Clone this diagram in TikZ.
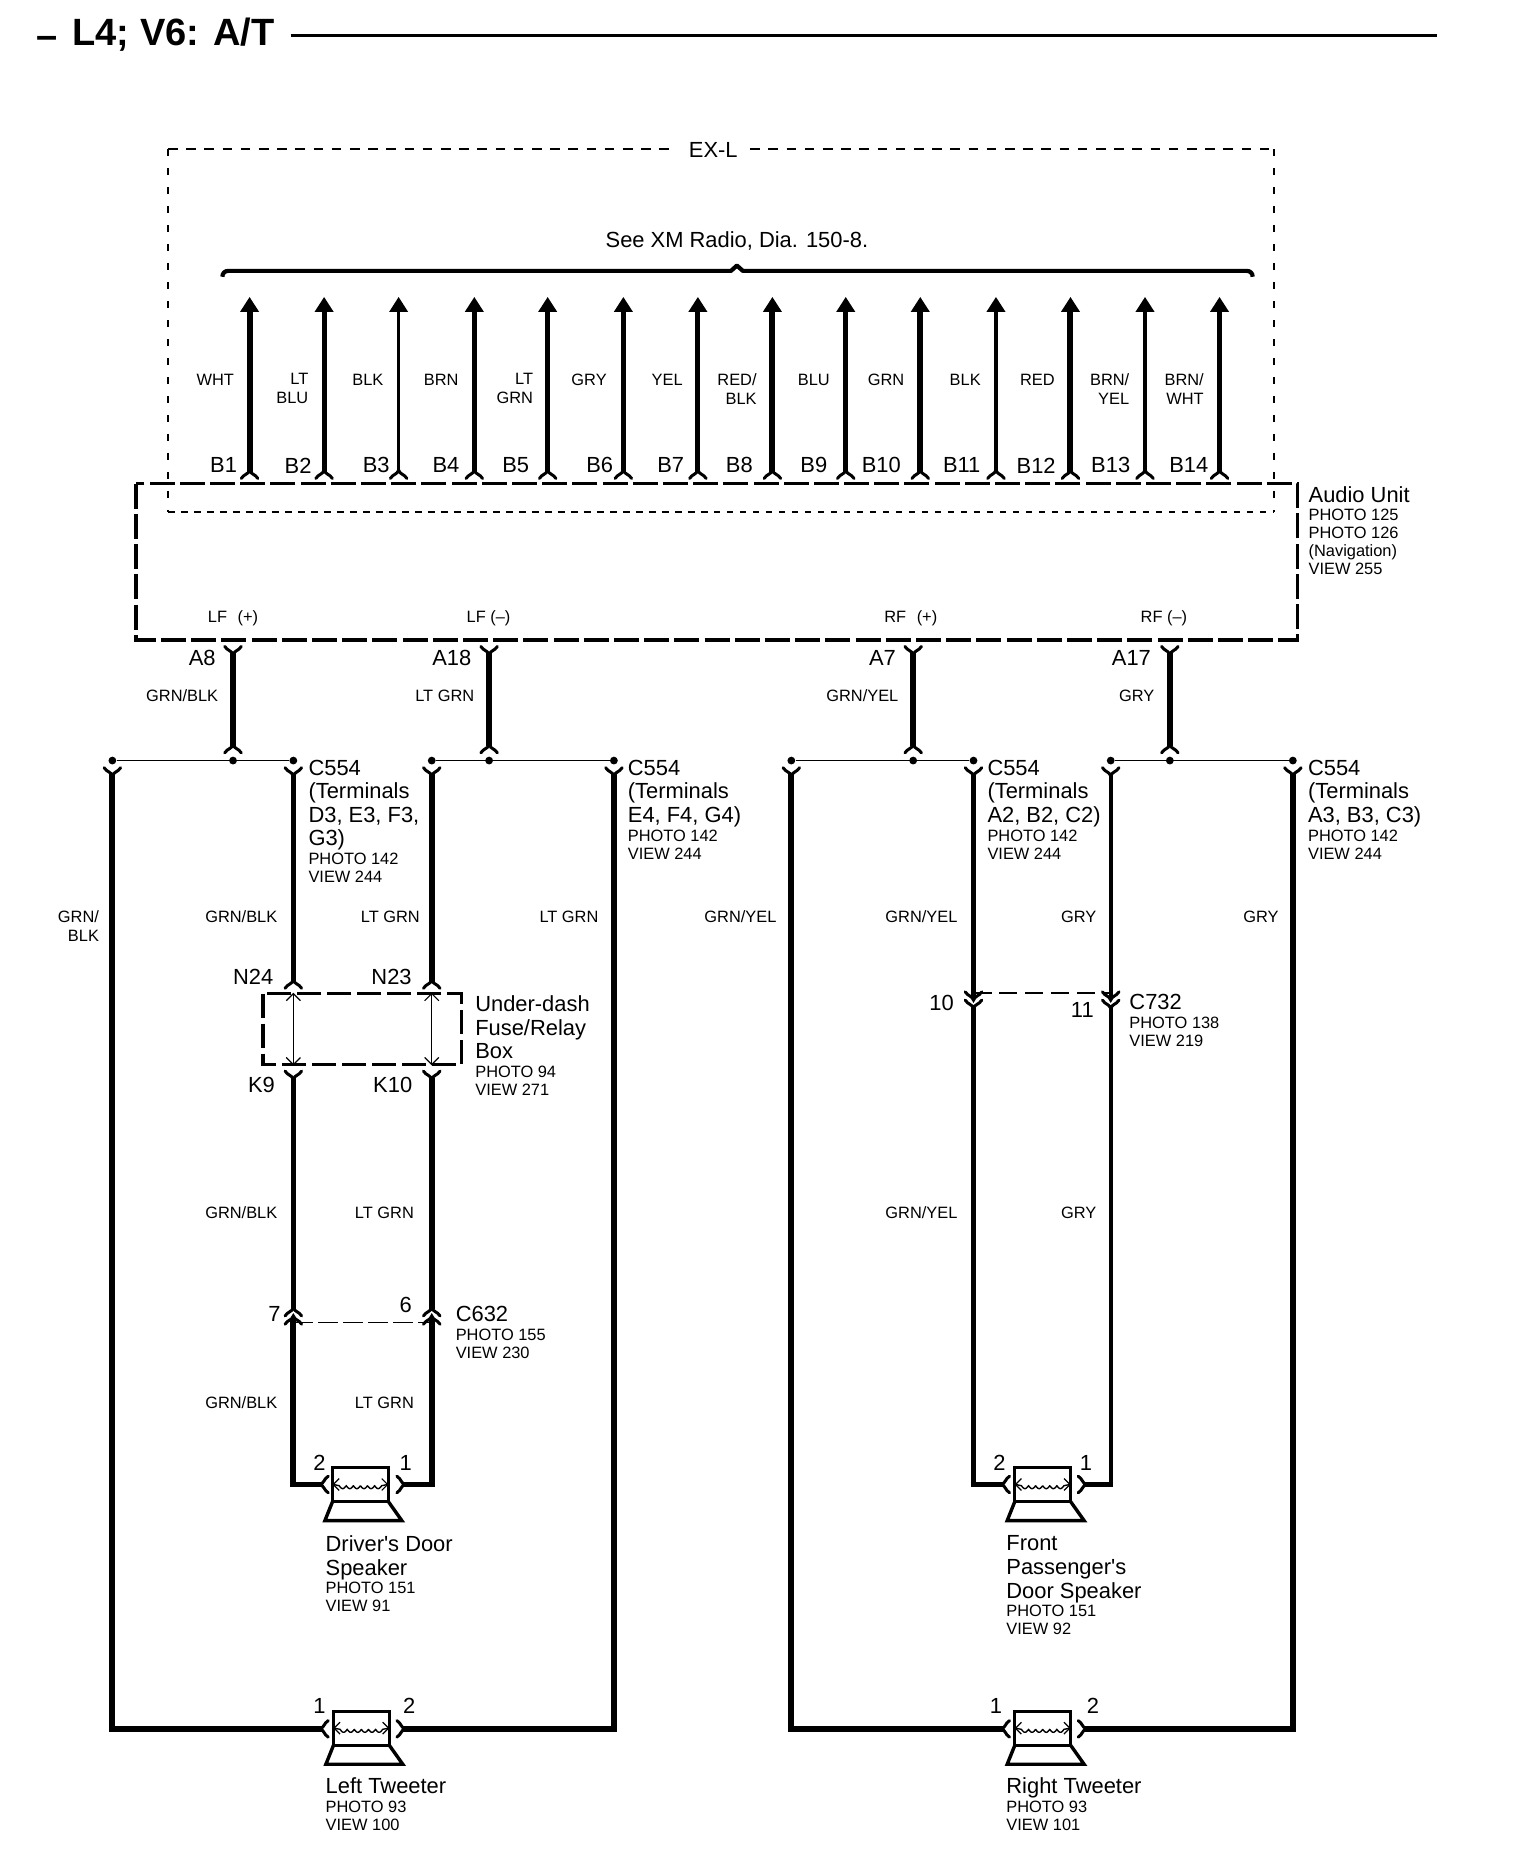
\documentclass[tikz,border=0pt]{standalone}
\usepackage{fontspec}
\setmainfont{Liberation Sans}
\newfontfamily\plainapos{Liberation Sans}
\usetikzlibrary{arrows.meta}
\tikzset{
  big/.style={inner sep=0pt,font=\fontsize{10.95}{11.8}\selectfont,align=left},
  small/.style={inner sep=0pt,font=\fontsize{8.2}{9}\selectfont,align=left},
  wlab/.style={inner sep=0pt,font=\fontsize{8.2}{9.3}\selectfont,align=right},
  wire/.style={line width=2.9pt,line cap=butt,line join=miter},
  wiren/.style={line width=2.2pt,line cap=butt,line join=miter},
  bus/.style={line width=0.9pt},
  upwire/.style={-{Triangle[length=7.5pt,width=9pt]}},
  forkline/.style={line width=1.5pt,line cap=round},
  dot/.style={circle,fill=black,inner sep=0pt,minimum size=3.9pt},
  bigbox/.style={line width=1.7pt,dash pattern=on 12.5pt off 2.6pt},
  thinh/.style={line width=1pt,dash pattern=on 4.8pt off 4.3pt},
  thinb/.style={line width=0.7pt,dash pattern=on 3.3pt off 3.2pt},
  thinv/.style={line width=0.7pt,dash pattern=on 3.4pt off 6.1pt},
  thinj/.style={line width=0.5pt,dash pattern=on 10pt off 2.5pt},
  thinm/.style={line width=1pt,dash pattern=on 9pt off 4pt},
}
\newcommand\forkat[2][0]{\begin{scope}[shift={(#2)},rotate=#1]
  \draw[forkline] (-7,5.5) .. controls (-4.5,1.5) and (-1.5,2.5) .. (0,-1.5) .. controls (1.5,2.5) and (4.5,1.5) .. (7,5.5);
\end{scope}}
\newcommand\spkat[1]{\begin{scope}[shift={(#1)}]
  \draw[line width=1.5pt,line join=miter] (-23.5,-14.3) rectangle (23.5,14.3);
  \draw[line width=1.7pt,line join=miter] (-23.5,14.3) -- (-30,30.5) -- (35,30.5) -- (23.5,14.3);
  \draw[line width=0.6pt] (-18,-5) -- (-23,0) -- (-18,5);
  \draw[line width=0.6pt] (18,-5) -- (23,0) -- (18,5);
  \draw[line width=0.7pt] (-23,0) -- (-18,1) -- plot[domain=-18:18,samples=90] (\x,{1+2.5*abs(sin(\x*30))}) -- (23,0);
\end{scope}}
\newcommand\dblat[1]{\begin{scope}[shift={(#1)}]
  \draw[line width=0.6pt] (0,0) -- (0,60);
  \draw[line width=0.6pt] (-6,6) -- (0,0) -- (6,6);
  \draw[line width=0.6pt] (-6,54) -- (0,60) -- (6,54);
\end{scope}}
\begin{document}
\begin{tikzpicture}[x=0.5915pt,y=-0.5915pt]
\useasboundingbox (0,0) rectangle (1285,1567.4);
% title
\node[inner sep=0pt,anchor=west,font=\bfseries\fontsize{19}{20}\selectfont] (title) at (61,29.5) {L4; V6: A/T};
\node[inner sep=0pt,font=\bfseries\fontsize{19}{20}\selectfont] (titledash) at (40,36) {–};
\coordinate (tl) at (246,30); \coordinate (tr) at (1215,30);
\draw[line width=1.7pt] (tl) -- (tr);
% EX-L box
\coordinate (exa) at (142,126); \coordinate (exb) at (1077,433);
\draw[thinh] (exa) -- (exb |- exa);
\draw[thinb] (exa |- exb) -- (exb);
\draw[thinv] (exa) -- (exa |- exb);
\draw[thinv] (exb |- exa) -- (exb);
\node[fill=white,inner xsep=6pt,inner ysep=1pt,font=\fontsize{10.95}{11}\selectfont] (exl) at (603,127) {EX-L};
\node[inner sep=0pt,font=\fontsize{10.95}{11}\selectfont] (xm) at (623,204) {See XM Radio, Dia. 150-8.};
% brace
\coordinate (bra) at (188,234); \coordinate (brb) at (1059,234); \coordinate (brc) at (623,224.5);
\draw[line width=2.1pt,line join=round] (bra) .. controls (188,231) and (190,229) .. (193,229) -- (618,229) -- (brc) -- (628,229) -- (1054,229) .. controls (1057,229) and (1059,231) .. (brb);
% B wires
\foreach \n/\x/\w in {1/211/3,2/274/2.4,3/337/1.7,4/401/2.4,5/463/2.4,6/527/2.4,7/590/2.4,8/653/3,9/715/2.5,10/778/3,11/842/2,12/905/3,13/968/2,14/1031/2.5}{
  \coordinate (bb\n) at (\x,399); \coordinate (bt\n) at (\x,251);
  \draw[upwire,line width=\w pt] (bb\n) -- (bt\n);
  \forkat{bb\n}
}
\foreach \n/\x in {B1/189,B2/252,B3/318,B4/377,B5/436,B6/507,B7/567,B8/625,B9/688,B10/745,B11/813,B12/876,B13/939,B14/1005}
  \node[big] (pin\n) at (\x,393.5) {\n};
\foreach \n/\t/\x in {a/WHT/182,b/BLK/311,c/BRN/373,d/GRY/498,e/YEL/564,f/BLU/688,g/GRN/749,h/BLK/816,i/RED/877}
  \node[wlab] (blab\n) at (\x,321.5) {\t};
\node[wlab,anchor=north east] (blabj) at (261,315.5) {LT\\BLU};
\node[wlab,anchor=north east] (blabk) at (451,315.5) {LT\\GRN};
\node[wlab,anchor=north east] (blabl) at (640,315.5) {RED/\\BLK};
\node[wlab,anchor=north east] (blabm) at (955,315.5) {BRN/\\YEL};
\node[wlab,anchor=north east] (blabn) at (1018,315.5) {BRN/\\WHT};
% Audio unit
\coordinate (aua) at (115,409); \coordinate (aub) at (1097,541);
\draw[bigbox] (aua) rectangle (aub);
\node[big,anchor=north west] (audio) at (1106,411) {Audio Unit};
\node[small,anchor=north west] (audiop) at (1106,430) {PHOTO 125\\PHOTO 126\\(Navigation)\\VIEW 255};
\node[small] (lfp) at (197,522.5) {LF\hspace{3pt} (+)};
\node[small] (lfm) at (413,522.5) {LF (–)};
\node[small] (rfp) at (770,522.5) {RF\hspace{3pt} (+)};
\node[small] (rfm) at (984,522.5) {RF (–)};
% A wires
\foreach \n/\x in {a/197,b/413.5,c/772,d/989}{
  \coordinate (at\n) at (\x,552); \coordinate (ab\n) at (\x,631); \coordinate (jn\n) at (\x,643);
  \draw[wire] (at\n) -- (ab\n);
  \forkat[180]{at\n}
  \forkat{ab\n}
  \node[dot] (jd\n) at (jn\n) {};
}
\node[big] (a8) at (171,556) {A8};
\node[big] (a18) at (382,556) {A18};
\node[big] (a7) at (746,556) {A7};
\node[big] (a17) at (956.5,556) {A17};
\node[small] (wa8) at (154,588) {GRN/BLK};
\node[small] (wa18) at (376,588) {LT GRN};
\node[small] (wa7) at (729,588) {GRN/YEL};
\node[small] (wa17) at (961,588) {GRY};
% buses
\foreach \m/\xa/\xb in {a/95/248,b/365/519,c/669/823,d/939/1093}{
  \node[dot] (bl\m) at (\xa,643) {};
  \node[dot] (br\m) at (\xb,643) {};
  \draw[bus] (bl\m) -- (br\m);
  \forkat[180]{\xa,654.5}
  \forkat[180]{\xb,654.5}
}
% outer loops
\coordinate (lo1) at (95,654.5); \coordinate (lt1) at (272,1461.6);
\coordinate (lo2) at (519,654.5); \coordinate (lt2) at (341,1461.6);
\draw[wire] (lo1) |- (lt1);
\draw[wire] (lo2) |- (lt2);
\coordinate (ro1) at (669,654.5); \coordinate (rt1) at (848,1461.6);
\coordinate (ro2) at (1093,654.5); \coordinate (rt2) at (917,1461.6);
\draw[wire] (ro1) |- (rt1);
\draw[wire] (ro2) |- (rt2);
% left inner
\coordinate (n24a) at (248,654.5); \coordinate (n24) at (248,830);
\coordinate (n23a) at (365,654.5); \coordinate (n23) at (365,830);
\draw[wiren] (n24a) -- (n24);
\draw[wire] (n23a) -- (n23);
\forkat{n24} \forkat{n23}
\coordinate (fa) at (222.5,840); \coordinate (fb) at (390,900);
\draw[bigbox,dash pattern=on 12pt off 3pt] (fa) rectangle (fb);
\dblat{248,840}
\dblat{365,840}
\coordinate (k9) at (248,911); \coordinate (k10) at (365,911);
\coordinate (c7a) at (248,1107); \coordinate (c6a) at (365,1107);
\draw[wiren] (k9) -- (c7a);
\draw[wire] (k10) -- (c6a);
\forkat[180]{k9} \forkat[180]{k10}
\forkat{c7a} \forkat{c6a}
\coordinate (c7b) at (248,1114); \coordinate (c6b) at (365,1114);
\forkat{c7b} \forkat{c6b}
\coordinate (c7d) at (248,1118); \coordinate (c6d) at (365,1118);
\draw[thinj] (c7d) -- (c6d);
\coordinate (ds2) at (272,1255); \coordinate (ds1) at (341,1255);
\draw[wire] (c7b) |- (ds2);
\draw[wire] (c6b) |- (ds1);
% right inner
\coordinate (c10a) at (823,654.5); \coordinate (c11a) at (939,654.5);
\coordinate (c10) at (823,844); \coordinate (c11) at (939,844);
\coordinate (c10j) at (823,839.5); \coordinate (c11j) at (939,839.5);
\coordinate (c10b) at (823,851); \coordinate (c11b) at (939,851);
\draw[wire] (c10a) -- (c10);
\draw[wiren] (c11a) -- (c11);
\draw[thinm] (c10j) -- (c11j);
\forkat[180]{c10} \forkat[180]{c11}
\forkat[180]{c10b} \forkat[180]{c11b}
\coordinate (ps2) at (848,1255); \coordinate (ps1) at (917,1255);
\draw[wire] (c10b) |- (ps2);
\draw[wiren] (c11b) |- (ps1);
% speakers
\spkat{304.7,1255}
\spkat{305.5,1461}
\spkat{881.5,1255}
\spkat{881.5,1461}
\foreach \c/\r in {ds2/90,lt1/90,ps2/90,rt1/90,ds1/-90,lt2/-90,ps1/-90,rt2/-90}
  {\forkat[\r]{\c}}
% C554 labels
\node[big,anchor=north west] (c1) at (260.5,642) {C554\\(Terminals\\D3, E3, F3,\\G3)};
\node[small,anchor=north west] (c1p) at (260.5,721) {PHOTO 142\\VIEW 244};
\node[big,anchor=north west] (c2) at (530.5,642) {C554\\(Terminals\\E4, F4, G4)};
\node[small,anchor=north west] (c2p) at (530.5,701) {PHOTO 142\\VIEW 244};
\node[big,anchor=north west] (c3) at (834.5,642) {C554\\(Terminals\\A2, B2, C2)};
\node[small,anchor=north west] (c3p) at (834.5,701) {PHOTO 142\\VIEW 244};
\node[big,anchor=north west] (c4) at (1105.5,642) {C554\\(Terminals\\A3, B3, C3)};
\node[small,anchor=north west] (c4p) at (1105.5,701) {PHOTO 142\\VIEW 244};
% wire labels
\node[wlab,anchor=north east] (w1) at (84,769.5) {GRN/\\BLK};
\node[small] (w2) at (204,775) {GRN/BLK};
\node[small] (w3) at (330,775) {LT GRN};
\node[small] (w4) at (481,775) {LT GRN};
\node[small] (w5) at (626,775) {GRN/YEL};
\node[small] (w6) at (779,775) {GRN/YEL};
\node[small] (w7) at (912,775) {GRY};
\node[small] (w8) at (1066,775) {GRY};
\node[small] (w9) at (204,1025) {GRN/BLK};
\node[small] (w10) at (325,1025) {LT GRN};
\node[small] (w11) at (779,1025) {GRN/YEL};
\node[small] (w12) at (912,1025) {GRY};
\node[small] (w13) at (204,1186) {GRN/BLK};
\node[small] (w14) at (325,1186) {LT GRN};
% pins
\node[big] (n24l) at (214,826) {N24};
\node[big] (n23l) at (331,826) {N23};
\node[big] (k9l) at (221,917) {K9};
\node[big] (k10l) at (332,917) {K10};
\node[big,anchor=north west] (fuse) at (401.5,841.5) {Under-dash\\Fuse/Relay\\Box};
\node[small,anchor=north west] (fusep) at (401.5,900.5) {PHOTO 94\\VIEW 271};
\node[big] (p10) at (796,848) {10};
\node[big] (p11) at (915,854) {11};
\node[big,anchor=north west] (c732) at (954.5,840) {C732};
\node[small,anchor=north west] (c732p) at (954.5,859.5) {PHOTO 138\\VIEW 219};
\node[big] (p7) at (232,1111) {7};
\node[big] (p6) at (343,1103) {6};
\node[big,anchor=north west] (c632) at (385,1104) {C632};
\node[small,anchor=north west] (c632p) at (385,1123.5) {PHOTO 155\\VIEW 230};
% speaker labels
\node[big] (s2) at (270,1237) {2};
\node[big] (s1) at (343,1237) {1};
\node[big,anchor=north west] (ds) at (275,1298) {Driver{\plainapos'}s Door\\Speaker};
\node[small,anchor=north west] (dsp) at (275,1337) {PHOTO 151\\VIEW 91};
\node[big] (s4) at (845,1237) {2};
\node[big] (s3) at (918,1237) {1};
\node[big,anchor=north west] (ps) at (850.5,1298) {Front\\Passenger{\plainapos'}s\\Door Speaker};
\node[small,anchor=north west] (psp) at (850.5,1356.5) {PHOTO 151\\VIEW 92};
\node[big] (t1) at (270,1442) {1};
\node[big] (t2) at (346,1442) {2};
\node[big,anchor=north west] (lt) at (275,1502.5) {Left Tweeter};
\node[small,anchor=north west] (ltp) at (275,1522) {PHOTO 93\\VIEW 100};
\node[big] (t3) at (842,1442) {1};
\node[big] (t4) at (924,1442) {2};
\node[big,anchor=north west] (rt) at (850.5,1502.5) {Right Tweeter};
\node[small,anchor=north west] (rtp) at (850.5,1522) {PHOTO 93\\VIEW 101};
\end{tikzpicture}
\end{document}
